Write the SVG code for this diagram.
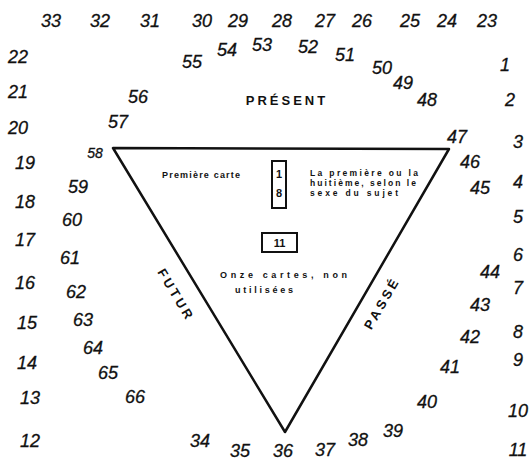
<svg xmlns="http://www.w3.org/2000/svg" width="531" height="464" viewBox="0 0 531 464">
<style>
.n{font-family:"Liberation Sans",sans-serif;font-size:18px;fill:#111;text-anchor:middle;dominant-baseline:central;font-style:italic;stroke:#111;stroke-width:0.3}
.s{font-family:"Liberation Sans",sans-serif;font-size:9px;font-weight:bold;fill:#111}
.big{font-family:"Liberation Sans",sans-serif;font-size:13px;font-weight:bold;fill:#111;text-anchor:middle;dominant-baseline:central}
.box{fill:none;stroke:#111;stroke-width:2}
</style>
<rect width="531" height="464" fill="#fff"/>
<g id="triangle"><polygon points="113,148 449,149 285,432" fill="none" stroke="#111" stroke-width="2.5" stroke-linejoin="round"/></g>
<g id="outer">
<text class="n" x="51" y="21">33</text><text class="n" x="100" y="21">32</text><text class="n" x="150" y="21">31</text><text class="n" x="202" y="21">30</text><text class="n" x="238" y="21">29</text><text class="n" x="282" y="21">28</text><text class="n" x="325" y="21">27</text><text class="n" x="362" y="21">26</text><text class="n" x="410" y="21">25</text><text class="n" x="447" y="21">24</text><text class="n" x="487" y="21">23</text>
<text class="n" x="18" y="57">22</text><text class="n" x="18" y="92">21</text><text class="n" x="18" y="128">20</text><text class="n" x="25" y="163">19</text><text class="n" x="25" y="202">18</text><text class="n" x="25" y="240">17</text><text class="n" x="25" y="283">16</text><text class="n" x="27" y="323">15</text><text class="n" x="27" y="363">14</text><text class="n" x="30" y="398">13</text><text class="n" x="30" y="441">12</text>
<text class="n" x="505" y="65">1</text><text class="n" x="510" y="100">2</text><text class="n" x="518" y="142">3</text><text class="n" x="518" y="182">4</text><text class="n" x="518" y="217">5</text><text class="n" x="518" y="255">6</text><text class="n" x="518" y="288">7</text><text class="n" x="518" y="332">8</text><text class="n" x="518" y="360">9</text><text class="n" x="518" y="411">10</text><text class="n" x="518" y="450">11</text>
</g>
<g id="inner">
<text class="n" x="200" y="441">34</text><text class="n" x="240" y="451">35</text><text class="n" x="283" y="451">36</text><text class="n" x="325" y="450">37</text><text class="n" x="358" y="440">38</text><text class="n" x="393" y="431">39</text><text class="n" x="427" y="402">40</text><text class="n" x="450" y="367">41</text><text class="n" x="470" y="337">42</text><text class="n" x="480" y="305">43</text><text class="n" x="490" y="272">44</text><text class="n" x="480" y="188">45</text><text class="n" x="470" y="162">46</text><text class="n" x="457" y="137">47</text><text class="n" x="427" y="100">48</text><text class="n" x="403" y="83">49</text><text class="n" x="382" y="68">50</text><text class="n" x="345" y="55">51</text><text class="n" x="308" y="47">52</text><text class="n" x="262" y="45">53</text><text class="n" x="227" y="50">54</text><text class="n" x="192" y="62">55</text><text class="n" x="138" y="97">56</text><text class="n" x="118" y="122">57</text><text class="n" x="95" y="153" style="font-size:14px">58</text><text class="n" x="78" y="187">59</text><text class="n" x="72" y="220">60</text><text class="n" x="70" y="258">61</text><text class="n" x="76" y="292">62</text><text class="n" x="83" y="320">63</text><text class="n" x="93" y="348">64</text><text class="n" x="108" y="373">65</text><text class="n" x="135" y="397">66</text>
</g>
<g id="labels">
<text class="big" x="287" y="100" letter-spacing="3">PRÉSENT</text>
<text class="big" transform="translate(176,295) rotate(59)" letter-spacing="3">FUTUR</text>
<text class="big" transform="translate(382,303) rotate(-60)" letter-spacing="3">PASSÉ</text>
</g>
<g id="first-card">
<text class="s" x="162" y="178" textLength="78">Première carte</text>
<rect class="box" x="272" y="161" width="14" height="47"/>
<text class="s" x="279" y="178" text-anchor="middle" style="font-size:11px">1</text>
<text class="s" x="279" y="197" text-anchor="middle" style="font-size:11px">8</text>
<text class="s" x="310" y="176" textLength="108" style="font-size:8.5px">La première ou la</text>
<text class="s" x="310" y="186" textLength="106" style="font-size:8.5px">huitième, selon le</text>
<text class="s" x="310" y="196" textLength="88" style="font-size:8.5px">sexe du sujet</text>
</g>
<g id="unused">
<rect class="box" x="262" y="233" width="35" height="19"/>
<text class="s" x="279.5" y="247" text-anchor="middle" style="font-size:11px">11</text>
<text class="s" x="220" y="278" textLength="127">Onze cartes, non</text>
<text class="s" x="235" y="293" textLength="58">utilisées</text>
</g>
</svg>
